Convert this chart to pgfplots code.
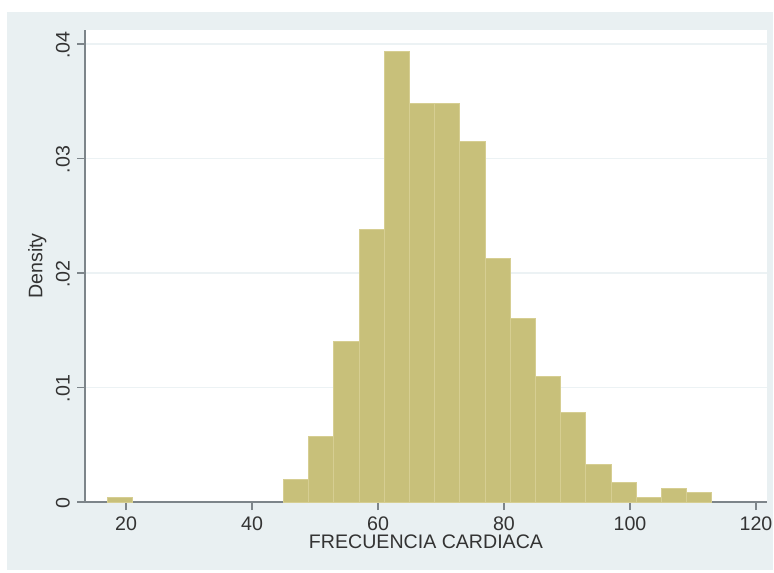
\documentclass[border=0pt]{standalone}
\usepackage{fontspec}
\setmainfont{Liberation Sans}
\usepackage{pgfplots}
\pgfplotsset{compat=1.18}
\definecolor{bgc}{RGB}{233,240,242}
\definecolor{barc}{RGB}{200,192,122}
\definecolor{baredge}{RGB}{214,206,146}
\definecolor{gridc}{RGB}{236,242,244}
\definecolor{axc}{RGB}{125,133,138}
\begin{document}
\begin{tikzpicture}
\fill[white] (0,0) rectangle (387pt,286pt);
\fill[bgc] (3.5pt,1pt) rectangle (386.5pt,280pt);
\begin{axis}[
 at={(42.5pt,35pt)}, anchor=south west,
 scale only axis, width=341pt, height=236pt,
 xmin=13.49, xmax=121.75, ymin=0, ymax=0.04122,
 axis background/.style={fill=white},
 axis x line*=bottom, axis y line*=left,
 axis line style={axc, line width=0.8pt},
 xtick={20,40,...,120}, ytick={0,0.01,0.02,0.03,0.04},
 yticklabels={0,.01,.02,.03,.04},
 scaled y ticks=false,
 /pgf/number format/assume math mode=true,
 tick align=outside, major tick length=4pt,
 tick style={axc, line width=0.6pt},
 ymajorgrids, grid style={gridc, line width=0.8pt},
 ticklabel style={font=\fontsize{9.8}{11}\selectfont, text=black!80},
 yticklabel style={rotate=90, anchor=south, xshift=-0.5pt},
 label style={font=\fontsize{9.8}{11}\selectfont, text=black!80},
 xlabel={FRECUENCIA CARDIACA},
 ylabel={Density},
 xlabel style={yshift=5pt},
 ylabel style={yshift=-2pt},
]
\addplot[ybar interval, fill=barc, draw=baredge, line width=0.5pt] coordinates {(17,0.00035) (21,0.00035)};
\addplot[ybar interval, fill=barc, draw=baredge, line width=0.5pt] coordinates {
(45,0.0020) (49,0.0057) (53,0.0140) (57,0.0238) (61,0.0393) (65,0.0348)
(69,0.0348) (73,0.0315) (77,0.0213) (81,0.0160) (85,0.0110) (89,0.0078)
(93,0.0033) (97,0.00166) (101,0.00035) (105,0.0012) (109,0.0008) (113,0.0008)};
\end{axis}
\pgfresetboundingbox
\useasboundingbox (0,0) rectangle (387pt,286pt);
\end{tikzpicture}
\end{document}
